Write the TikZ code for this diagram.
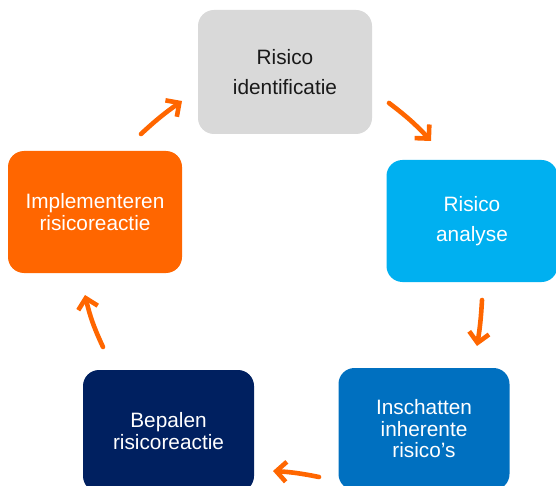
\documentclass[tikz,border=0pt]{standalone}
\usepackage{fontspec}
\setmainfont{Liberation Sans}
\usetikzlibrary{arrows.meta}

\definecolor{grijs}{HTML}{D9D9D9}
\definecolor{lichtblauw}{HTML}{00B0F0}
\definecolor{blauw}{HTML}{0070C0}
\definecolor{donkerblauw}{HTML}{002060}
\definecolor{oranje}{HTML}{FF6600}

\begin{document}
\begin{tikzpicture}[x=1pt, y=-1pt,
    stap/.style={rectangle, rounded corners=16pt, minimum width=171pt,
                 minimum height=122pt, align=center, text=white,
                 inner sep=0pt},
    ruim/.style={font=\fontsize{20.8}{29.5}\selectfont},
    krap/.style={font=\fontsize{20.8}{21.5}\selectfont},
    pijl/.style={-{Straight Barb[length=10pt, width=20pt]}, draw=oranje,
                 line width=4.6pt, line cap=round}]
    % Kader van de figuur
    \useasboundingbox (0,0) rectangle (556,486);
    \clip (0,0) rectangle (556,486);

    % De vijf stappen van de cyclus
    \node[stap, ruim, fill=grijs, text=black!90, minimum width=174pt,
          minimum height=124pt] (ident) at (285,72) {Risico\\identificatie};
    \node[stap, ruim, fill=lichtblauw] (analyse) at (472,221) {Risico\\analyse};
    \node[stap, krap, fill=blauw] (inschat) at (424,429) {Inschatten\\inherente\\risico’s};
    \node[stap, krap, fill=donkerblauw] (bepaal) at (168.5,431) {Bepalen\\risicoreactie};
    \node[stap, krap, fill=oranje, minimum width=174pt] (impl) at (95,212) {Implementeren\\risicoreactie};

    % Begin- en eindpunten van de pijlen
    \coordinate (p1a) at (389,103);  \coordinate (p1b) at (431,141);
    \coordinate (p2a) at (482,300);  \coordinate (p2b) at (477,346);
    \coordinate (p3a) at (319,477);  \coordinate (p3b) at (273,471);
    \coordinate (p4a) at (103,347);  \coordinate (p4b) at (85,295);
    \coordinate (p5a) at (141,134);  \coordinate (p5b) at (182,101);

    % De pijlen rond de cyclus
    \draw[pijl] (p1a) to[bend left=5] (p1b);   % identificatie -> analyse
    \draw[pijl] (p2a) to[bend left=3] (p2b);   % analyse -> inschatten
    \draw[pijl] (p3a) to[bend right=4] (p3b);  % inschatten -> bepalen
    \draw[pijl] (p4a) to[bend left=6] (p4b);   % bepalen -> implementeren
    \draw[pijl] (p5a) to[bend left=4] (p5b);   % implementeren -> identificatie

\end{tikzpicture}
\end{document}
